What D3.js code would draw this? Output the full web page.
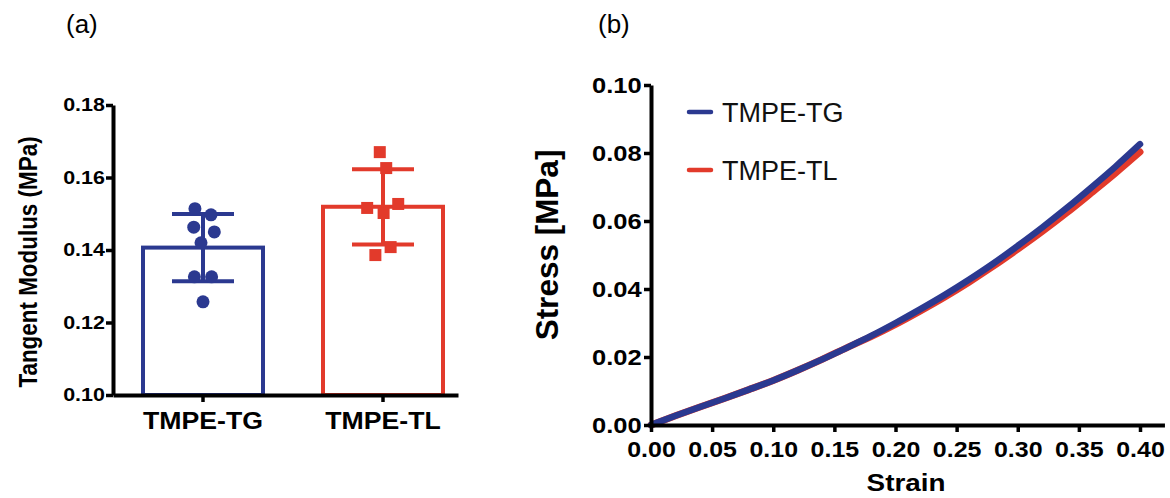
<!DOCTYPE html>
<html>
<head>
<meta charset="utf-8">
<script src="https://cdn.jsdelivr.net/npm/d3@7"></script>
<style>
  body { margin: 0; background: #fff; }
  svg text { font-family: "Liberation Sans", Arial, Helvetica, sans-serif; }
</style>
</head>
<body>
<div id="chart"></div>
<script>
// panel (a): tangent modulus, individual samples
var groups = ['TMPE-TG', 'TMPE-TL'];
var modulusTG = [0.1514, 0.1497, 0.1463, 0.1450, 0.1420, 0.1326, 0.1326, 0.1257];
var modulusTL = [0.1670, 0.1626, 0.1516, 0.1527, 0.1502, 0.1408, 0.1386];
var modulusTicks = [0.10, 0.12, 0.14, 0.16, 0.18];

// panel (b): stress-strain curves
var strain = [0.00, 0.02, 0.04, 0.06, 0.08, 0.10, 0.12, 0.14, 0.16, 0.18, 0.20,
              0.22, 0.24, 0.26, 0.28, 0.30, 0.32, 0.34, 0.36, 0.38, 0.40];
var stressTG = [0, 0.0027, 0.0053, 0.0078, 0.0104, 0.0131, 0.0161, 0.0193, 0.0227, 0.0262, 0.0300,
                0.0340, 0.0382, 0.0427, 0.0475, 0.0527, 0.0581, 0.0638, 0.0698, 0.0760, 0.0826];
var stressTL = [0, 0.0027, 0.0053, 0.0078, 0.0104, 0.0131, 0.0161, 0.0193, 0.0227, 0.0260, 0.0296,
                0.0335, 0.0376, 0.0420, 0.0467, 0.0517, 0.0569, 0.0624, 0.0682, 0.0741, 0.0803];
var strainTicks = [0, 0.05, 0.10, 0.15, 0.20, 0.25, 0.30, 0.35, 0.40];
var stressTicks = [0, 0.02, 0.04, 0.06, 0.08, 0.10];

var ctx = {
    w: 1170,
    h: 498,
    blue: '#2b3990',
    red: '#e23a2b',
    stretch: 1.16,
    font: '"Liberation Sans", Arial, Helvetica, sans-serif'
};

var stretchText = function(sel, s) {
    sel.attr('transform', 'scale(' + s + ',1)');
};

var styleAxis = function(g, fontSize) {
    g.select('.domain').attr('stroke-width', 4).attr('stroke', '#000');
    g.selectAll('.tick line').attr('stroke-width', 3.5).attr('stroke', '#000');
    g.selectAll('.tick text')
        .attr('fill', '#000')
        .attr('font-size', fontSize + 'px')
        .attr('font-weight', 'bold')
        .attr('font-family', ctx.font)
        .call(stretchText, ctx.stretch);
};

var drawPanelA = function(svg) {
    var x = d3.scaleBand().domain(groups).range([113, 458])
        .paddingInner(1 / 3).paddingOuter(0.125).align(2 / 3);
    var y = d3.scaleLinear().domain([0.10, 0.18]).range([395, 105]);
    var colors = { 'TMPE-TG': ctx.blue, 'TMPE-TL': ctx.red };
    var values = { 'TMPE-TG': modulusTG, 'TMPE-TL': modulusTL };

    var g = svg.append('g');

    groups.forEach(function(name) {
        var vals = values[name];
        var mean = d3.mean(vals);
        var sd = d3.deviation(vals);
        var cx = x(name) + x.bandwidth() / 2;
        var col = colors[name];

        g.append('rect')
            .attr('x', x(name))
            .attr('y', y(mean))
            .attr('width', x.bandwidth())
            .attr('height', y(0.10) - y(mean))
            .attr('fill', 'none')
            .attr('stroke', col)
            .attr('stroke-width', 4);

        // error bar: mean +/- SD
        g.append('line')
            .attr('x1', cx).attr('x2', cx)
            .attr('y1', y(mean + sd)).attr('y2', y(mean - sd))
            .attr('stroke', col).attr('stroke-width', 4);
        [mean + sd, mean - sd].forEach(function(v) {
            g.append('line')
                .attr('x1', cx - 31).attr('x2', cx + 31)
                .attr('y1', y(v)).attr('y2', y(v))
                .attr('stroke', col).attr('stroke-width', 4);
        });

        // scatter of samples, spread sideways so they do not overlap
        var nodes = vals.map(function(v) {
            return { x: cx, fy: y(v), v: v };
        });
        var sim = d3.forceSimulation(nodes)
            .force('x', d3.forceX(cx).strength(0.06))
            .force('collide', d3.forceCollide(8.6))
            .stop();
        for (var i = 0; i < 300; i++) sim.tick();

        if (name === 'TMPE-TG') {
            g.selectAll('circle.pt-tg')
                .data(nodes)
                .enter()
                .append('circle')
                .attr('class', 'pt-tg')
                .attr('cx', d => d.x)
                .attr('cy', d => d.fy)
                .attr('r', 6.5)
                .attr('fill', col);
        } else {
            g.selectAll('rect.pt-tl')
                .data(nodes)
                .enter()
                .append('rect')
                .attr('class', 'pt-tl')
                .attr('x', d => d.x - 6)
                .attr('y', d => d.fy - 6)
                .attr('width', 12)
                .attr('height', 12)
                .attr('fill', col);
        }
    });

    var yAxis = svg.append('g')
        .attr('transform', 'translate(113,0)')
        .call(d3.axisLeft(y).tickValues(modulusTicks).tickFormat(d3.format('.2f'))
            .tickSize(7).tickSizeOuter(0).tickPadding(0));
    styleAxis(yAxis, 18.5);

    var xAxis = svg.append('g')
        .attr('transform', 'translate(0,395)')
        .call(d3.axisBottom(x).tickSize(7).tickSizeOuter(0).tickPadding(11));
    styleAxis(xAxis, 23);

    svg.append('text')
        .text('Tangent Modulus (MPa)')
        .attr('text-anchor', 'middle')
        .attr('font-size', '22px')
        .attr('font-weight', 'bold')
        .attr('dy', '0.35em')
        .attr('transform', 'translate(28,262) rotate(-90) scale(1.02,' + ctx.stretch + ')');

    svg.append('text')
        .text('(a)')
        .attr('x', 66)
        .attr('y', 33)
        .attr('font-size', '26px');
};

var drawPanelB = function(svg) {
    var x = d3.scaleLinear().domain([0, 0.42]).range([651, 651 + 0.42 * 1222.5]);
    var y = d3.scaleLinear().domain([0, 0.10]).range([425, 85]);

    var line = d3.line()
        .x((d, i) => x(strain[i]))
        .y(d => y(d))
        .curve(d3.curveMonotoneX);

    svg.append('path')
        .attr('d', line(stressTL))
        .attr('fill', 'none')
        .attr('stroke', ctx.red)
        .attr('stroke-width', 7)
        .attr('stroke-linecap', 'round');

    svg.append('path')
        .attr('d', line(stressTG))
        .attr('fill', 'none')
        .attr('stroke', ctx.blue)
        .attr('stroke-width', 6.5)
        .attr('stroke-linecap', 'round');

    var xAxis = svg.append('g')
        .attr('transform', 'translate(0,425)')
        .call(d3.axisBottom(x).tickValues(strainTicks).tickFormat(d3.format('.2f'))
            .tickSize(7).tickSizeOuter(0).tickPadding(10));
    styleAxis(xAxis, 21.5);

    var yAxis = svg.append('g')
        .attr('transform', 'translate(651,0)')
        .call(d3.axisLeft(y).tickValues(stressTicks).tickFormat(d3.format('.2f'))
            .tickSize(7).tickSizeOuter(0).tickPadding(1));
    styleAxis(yAxis, 22);

    svg.append('text')
        .text('Strain')
        .attr('text-anchor', 'middle')
        .attr('font-size', '24px')
        .attr('font-weight', 'bold')
        .attr('transform', 'translate(906,491) scale(' + ctx.stretch + ',1)');

    svg.append('text')
        .text('Stress [MPa]')
        .attr('text-anchor', 'middle')
        .attr('font-size', '30px')
        .attr('font-weight', 'bold')
        .attr('dy', '0.35em')
        .attr('transform', 'translate(547,245) rotate(-90) scale(1.05,1.05)');

    var legend = svg.append('g');
    var items = [{ name: 'TMPE-TG', col: ctx.blue, y: 112 }, { name: 'TMPE-TL', col: ctx.red, y: 170 }];
    legend.selectAll('line')
        .data(items)
        .enter()
        .append('line')
        .attr('x1', 689).attr('x2', 711)
        .attr('y1', d => d.y).attr('y2', d => d.y)
        .attr('stroke', d => d.col)
        .attr('stroke-width', 4.5)
        .attr('stroke-linecap', 'round');
    legend.selectAll('text')
        .data(items)
        .enter()
        .append('text')
        .attr('x', 722)
        .attr('y', d => d.y)
        .attr('dy', '0.36em')
        .attr('font-size', '27px')
        .attr('fill', '#111')
        .text(d => d.name);

    svg.append('text')
        .text('(b)')
        .attr('x', 598)
        .attr('y', 33)
        .attr('font-size', '26px');
};

var createViz = function() {
    var svg = d3.select('#chart').append('svg')
        .attr('width', ctx.w)
        .attr('height', ctx.h);
    drawPanelA(svg);
    drawPanelB(svg);
};

createViz();
</script>
</body>
</html>
